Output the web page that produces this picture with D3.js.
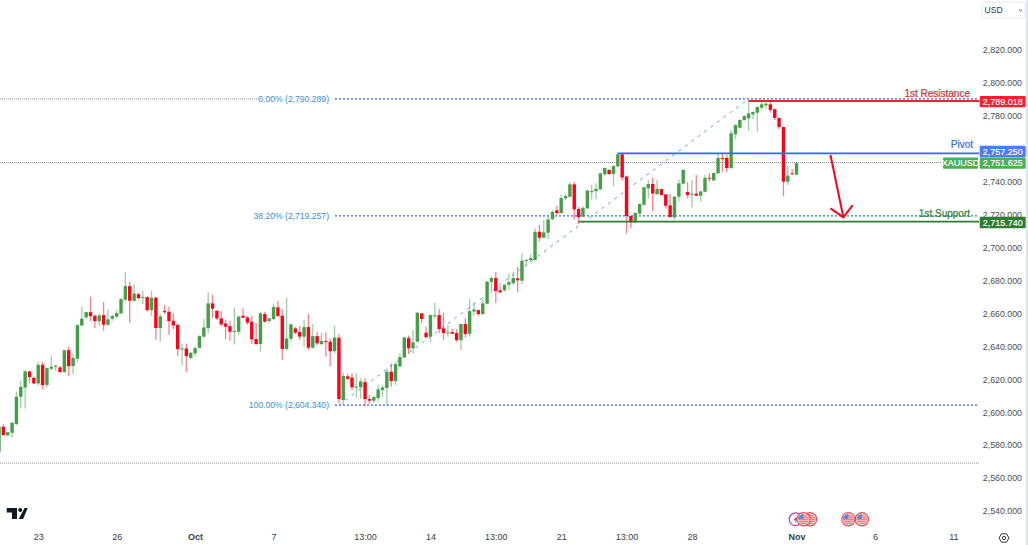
<!DOCTYPE html>
<html>
<head>
<meta charset="utf-8">
<script src="https://cdn.jsdelivr.net/npm/d3@7/dist/d3.min.js"></script>
<style>
  html, body { margin: 0; padding: 0; background: #fff; }
  svg { display: block; font-family: "Liberation Sans", Arial, sans-serif; }
</style>
</head>
<body>
<div id="viz"></div>
<script>
// XAUUSD 4h candles
const opens = [
  2576.0,2591.2,2585.9,2587.5,2592.8,2609.4,2615.0,2624.8,2620.9,2617.5,
  2628.8,2616.5,2626.4,2627.6,2627.2,2624.4,2637.7,2628.0,2632.5,2652.7,
  2657.6,2660.8,2658.6,2655.3,2659.0,2653.1,2656.8,2658.0,2660.0,2668.3,
  2676.6,2667.7,2671.7,2669.5,2669.9,2662.0,2669.5,2651.1,2661.4,2661.0,
  2655.5,2653.1,2638.1,2638.7,2632.9,2635.7,2639.1,2645.9,2651.1,2666.1,
  2661.6,2657.0,2653.9,2652.3,2648.9,2648.9,2658.6,2657.6,2655.0,2644.4,
  2641.4,2659.6,2655.4,2656.6,2663.7,2658.6,2638.4,2644.6,2650.9,2648.7,
  2645.9,2651.7,2639.2,2646.2,2641.4,2643.2,2642.8,2637.1,2645.2,2607.4,
  2621.8,2621.0,2615.3,2615.1,2618.3,2608.0,2607.0,2608.6,2613.5,2614.7,
  2624.6,2618.9,2627.8,2633.3,2645.0,2638.8,2642.8,2660.0,2648.3,2645.9,
  2658.4,2659.0,2650.9,2648.1,2648.7,2648.1,2643.8,2653.6,2647.7,2661.2,
  2662.0,2659.6,2665.9,2679.1,2681.5,2674.0,2674.0,2677.4,2678.4,2681.3,
  2679.9,2691.8,2692.4,2692.4,2709.6,2706.0,2709.0,2717.3,2722.6,2721.0,
  2729.9,2730.9,2738.4,2723.4,2718.8,2723.8,2734.1,2734.3,2735.4,2744.5,
  2747.1,2744.7,2749.3,2756.6,2743.1,2719.2,2715.3,2720.6,2726.0,2736.0,
  2738.6,2732.5,2735.6,2732.3,2725.6,2718.4,2730.9,2738.8,2733.7,2732.3,
  2732.7,2731.5,2733.9,2742.4,2740.8,2745.1,2754.4,2754.4,2748.3,2768.8,
  2772.8,2777.5,2778.5,2780.9,2781.9,2785.0,2786.4,2787.0,2784.0,2778.7,
  2773.2,2740.0,2745.1,2744.3
];
const highs = [
  2592.0,2592.6,2588.0,2594.0,2612.4,2619.1,2625.6,2624.8,2621.5,2630.4,
  2630.6,2627.2,2634.3,2628.8,2628.0,2637.7,2639.8,2635.7,2653.3,2664.1,
  2660.8,2670.1,2659.4,2660.0,2666.9,2662.6,2659.0,2662.0,2669.5,2685.1,
  2679.2,2677.6,2672.6,2673.8,2670.5,2673.8,2670.1,2660.0,2665.1,2664.1,
  2660.0,2653.3,2641.8,2641.8,2636.5,2639.8,2646.8,2656.6,2672.8,2671.2,
  2662.0,2661.4,2656.0,2655.4,2663.5,2658.6,2663.1,2658.4,2658.4,2654.4,
  2661.0,2661.0,2657.4,2666.1,2667.7,2662.7,2669.7,2653.9,2651.9,2652.3,
  2656.0,2659.6,2653.5,2648.9,2648.3,2648.5,2644.8,2652.5,2647.3,2623.6,
  2623.6,2623.6,2623.6,2620.5,2620.5,2610.4,2609.8,2616.5,2616.5,2626.6,
  2629.7,2630.7,2635.7,2645.8,2646.6,2649.9,2661.0,2660.4,2651.9,2659.4,
  2666.7,2662.7,2660.6,2652.9,2650.5,2650.5,2653.6,2657.0,2668.7,2666.5,
  2662.4,2669.1,2679.7,2682.3,2685.1,2676.6,2677.8,2684.3,2685.3,2688.4,
  2696.5,2693.0,2696.0,2711.7,2713.7,2716.7,2719.8,2722.8,2725.4,2731.9,
  2732.5,2739.4,2740.0,2724.8,2724.8,2735.0,2738.0,2739.0,2745.5,2748.5,
  2747.7,2749.9,2757.8,2757.2,2743.7,2719.2,2721.4,2726.8,2737.0,2741.0,
  2742.6,2741.0,2735.6,2732.5,2732.5,2731.3,2741.4,2747.5,2739.8,2741.0,
  2744.1,2734.5,2744.1,2745.1,2745.7,2757.2,2756.8,2756.2,2771.4,2774.8,
  2777.9,2780.3,2789.6,2782.7,2785.6,2790.0,2788.6,2790.0,2784.4,2779.1,
  2773.4,2749.5,2747.7,2751.7
];
const lows = [
  2575.0,2585.7,2585.5,2584.5,2592.2,2602.3,2602.3,2617.5,2617.1,2616.3,
  2613.8,2615.0,2625.2,2625.2,2623.8,2624.0,2622.1,2623.0,2630.6,2652.3,
  2656.4,2655.5,2651.1,2652.3,2649.5,2652.7,2655.5,2656.8,2659.6,2667.1,
  2654.3,2667.3,2668.5,2665.7,2661.0,2658.4,2644.2,2642.8,2659.6,2647.0,
  2650.5,2634.1,2628.6,2624.4,2632.5,2633.9,2638.7,2645.4,2647.9,2657.4,
  2656.0,2652.3,2644.2,2643.4,2641.2,2646.9,2657.0,2653.0,2641.4,2640.8,
  2636.7,2654.4,2654.0,2656.0,2658.0,2631.7,2637.3,2642.8,2647.5,2643.8,
  2639.8,2637.6,2638.6,2640.8,2640.8,2633.7,2628.0,2635.7,2605.4,2604.7,
  2619.5,2613.4,2609.0,2608.4,2604.3,2605.0,2605.8,2606.4,2609.4,2604.3,
  2615.5,2616.5,2627.6,2632.9,2635.3,2635.7,2642.4,2654.0,2644.8,2642.8,
  2657.0,2647.9,2643.8,2645.8,2647.5,2642.6,2637.7,2645.4,2645.8,2658.6,
  2658.6,2659.2,2665.5,2672.6,2666.5,2672.6,2673.2,2674.2,2677.2,2672.8,
  2677.8,2689.0,2691.0,2692.4,2703.6,2705.6,2705.0,2716.7,2719.8,2720.4,
  2728.9,2730.5,2717.1,2714.3,2718.4,2723.4,2729.3,2729.3,2735.0,2743.5,
  2744.1,2737.4,2748.7,2740.6,2708.6,2711.7,2715.3,2720.2,2725.6,2729.9,
  2722.2,2731.9,2731.5,2723.8,2718.1,2716.7,2727.9,2738.4,2729.9,2724.4,
  2731.3,2727.9,2733.5,2740.0,2740.6,2744.7,2745.7,2745.7,2747.9,2765.9,
  2772.4,2776.9,2770.8,2777.9,2770.4,2783.6,2784.4,2781.9,2777.5,2771.8,
  2731.3,2738.0,2744.3,2744.1
];
const closes = [
  2591.2,2586.1,2587.9,2593.6,2609.4,2615.4,2624.8,2621.3,2617.5,2628.8,
  2616.5,2626.8,2627.6,2628.2,2624.4,2637.7,2628.0,2632.9,2652.9,2656.8,
  2660.8,2658.4,2655.3,2658.8,2653.1,2656.4,2658.4,2660.2,2668.7,2676.6,
  2667.7,2672.1,2669.3,2669.9,2662.0,2669.5,2651.1,2658.2,2661.0,2655.3,
  2652.7,2638.3,2638.7,2634.1,2636.1,2638.9,2646.2,2651.5,2666.1,2662.9,
  2657.0,2653.3,2651.9,2648.9,2649.3,2658.0,2657.4,2654.4,2644.2,2641.4,
  2660.0,2655.0,2657.0,2663.9,2658.4,2638.4,2644.8,2653.3,2648.3,2645.9,
  2651.7,2639.2,2646.2,2641.8,2643.2,2642.8,2637.1,2645.4,2608.0,2622.0,
  2620.3,2615.1,2615.5,2618.7,2608.0,2607.0,2609.2,2613.9,2615.1,2624.6,
  2618.9,2629.2,2633.5,2645.4,2638.8,2642.4,2660.4,2656.6,2645.6,2659.0,
  2658.8,2650.5,2648.1,2648.5,2647.7,2643.8,2653.6,2647.5,2661.4,2662.4,
  2659.6,2666.1,2679.3,2681.5,2673.6,2672.8,2677.4,2679.0,2681.5,2680.1,
  2692.0,2692.4,2693.6,2709.6,2706.0,2709.2,2717.1,2721.6,2721.0,2730.1,
  2731.3,2738.4,2723.2,2718.4,2724.2,2734.6,2734.3,2735.6,2745.1,2748.3,
  2744.7,2749.5,2756.6,2742.6,2719.2,2715.3,2721.0,2726.4,2736.6,2738.6,
  2732.9,2735.6,2731.9,2725.4,2718.6,2730.9,2739.0,2747.1,2731.9,2732.7,
  2731.5,2734.1,2742.4,2741.8,2745.3,2754.4,2754.0,2748.3,2769.4,2774.4,
  2777.5,2779.9,2781.5,2782.3,2785.4,2787.0,2787.4,2783.6,2778.7,2773.2,
  2740.0,2743.7,2744.7,2751.3
];

// axes
const priceTicks = [2820,2800,2780,2740,2720,2700,2680,2660,2640,2620,2600,2580,2560,2540];
const timeTickBars = [9,27,45,63,84,99,114,129,144,159,183,201,219];
const timeTickLabels = ["23","26","Oct","7","13:00","14","13:00","21","13:00","28","Nov","6","11"];
const boldTimeLabels = ["Oct","Nov"];

// fib tool
const fibLabels = ["0.00%","38.20%","100.00%"];
const fibPrices = [2790.289,2719.257,2604.34];
const fibStartBar = 78;
const fibEndBar = 172;

// levels drawn on the chart
const levelNames = ["1st Resistance","Pivot","1st.Support"];
const levelPrices = [2789.018,2757.25,2715.74];
const levelStartBars = [172,142,133];

const lastPrice = 2751.625;
const symbol = "XAUUSD";
const greyLevelPrice = 2569.1;

// arrow: shaft start, tip, then the two barbs
const arrowBars = [190.8,193.75,190.8,195.9];
const arrowPrices = [2756.2,2718.4,2723.8,2725.8];

// calendar events under the candles
const flagBars = [186.1,184.6,194.9,198];
const moonBar = 182.8;

const width = 1028;
const height = 545;
const axisLeft = 979;

const green = "#43a047";
const red = "#ff0018";
const blue = "#2962ff";
const fibBlue = "#3d8de0";
const darkGreen = "#2e7d32";
const levelColors = ["#f7202f", "#2f6bf0", darkGreen];
const tagColors = ["#f7202f", "#4a7df3", "#2e7d32"];
const tagShifts = [0.6, -1.8, 0.9];
const textColor = "#4a4e57";

const x = d3.scaleLinear().domain([0, 219]).range([-1, 953.4]);
const y = d3.scaleLinear().domain([2540, 2820]).range([511, 50]);

const svg = d3.select("#viz").append("svg")
  .attr("width", width)
  .attr("height", height);

svg.append("rect").attr("width", width).attr("height", height).attr("fill", "#fff");
svg.append("line")
  .attr("x1", width - 1).attr("x2", width - 1)
  .attr("y1", 0).attr("y2", height)
  .attr("stroke", "#b8c8ee");

const chart = svg.append("g");

// long dotted lines behind everything
const dotted = (price, x1, x2, color, dash, w) => chart.append("line")
  .attr("x1", x1).attr("x2", x2)
  .attr("y1", y(price)).attr("y2", y(price))
  .attr("stroke", color)
  .attr("stroke-width", w)
  .attr("stroke-dasharray", dash);

dotted(fibPrices[0], 0, 262, "#8d8f98", "1 1", 1);
dotted(lastPrice, 0, 942, "#8b7f9e", "1 1", 1);
dotted(greyLevelPrice, 0, axisLeft, "#8d8f98", "1 1", 1);

// fib levels
fibPrices.forEach(p => {
  dotted(p, x(fibStartBar) - 4, axisLeft, blue, "2 2", 1.3);
});

chart.append("line")
  .attr("x1", x(fibStartBar)).attr("y1", y(fibPrices[2]))
  .attr("x2", x(fibEndBar)).attr("y2", y(fibPrices[0]))
  .attr("stroke", "#5b9cf6")
  .attr("stroke-width", 1)
  .attr("stroke-dasharray", "3 5");

chart.selectAll(".fibLabel")
  .data(fibLabels)
  .enter()
  .append("text")
  .attr("class", "fibLabel")
  .attr("x", 329)
  .attr("y", (d, i) => y(fibPrices[i]) + 3.2)
  .attr("text-anchor", "end")
  .attr("font-size", 8.6)
  .attr("fill", fibBlue)
  .text((d, i) => d + " (" + d3.format(",.3f")(fibPrices[i]) + ")");

// candles
const candles = d3.range(opens.length).map(i => ({
  i: i, o: opens[i], h: highs[i], l: lows[i], c: closes[i]
}));
const color = d => d.c >= d.o ? green : red;

const candleG = chart.selectAll(".candle")
  .data(candles)
  .enter()
  .append("g")
  .attr("class", "candle");

candleG.append("line")
  .attr("x1", d => x(d.i)).attr("x2", d => x(d.i))
  .attr("y1", d => y(d.h)).attr("y2", d => y(d.l))
  .attr("stroke", color)
  .attr("stroke-width", 1.3)
  .attr("opacity", 0.5);

candleG.append("rect")
  .attr("x", d => x(d.i) - 1.7)
  .attr("width", 3.4)
  .attr("y", d => y(Math.max(d.o, d.c)))
  .attr("height", d => Math.max(1, Math.abs(y(d.o) - y(d.c))))
  .attr("fill", color);

// levels and their names
levelPrices.forEach((p, i) => {
  chart.append("line")
    .attr("x1", x(levelStartBars[i])).attr("x2", axisLeft)
    .attr("y1", y(p)).attr("y2", y(p))
    .attr("stroke", levelColors[i])
    .attr("stroke-width", 1.8);
  chart.append("text")
    .attr("x", i == 1 ? 973 : 970)
    .attr("y", y(p) + [-4.5, -5, -5][i])
    .attr("text-anchor", "end")
    .attr("font-size", 10)
    .attr("fill", levelColors[i])
    .attr("stroke", levelColors[i])
    .attr("stroke-width", 0.2)
    .text(levelNames[i]);
});

// red arrow
const arrowPts = arrowBars.map((b, i) => [x(b), y(arrowPrices[i])]);
const arrowLine = d3.line();
chart.append("path")
  .attr("d", arrowLine([arrowPts[0], arrowPts[1]]))
  .attr("stroke", red).attr("stroke-width", 2).attr("fill", "none");
chart.append("path")
  .attr("d", arrowLine([arrowPts[2], arrowPts[1], arrowPts[3]]))
  .attr("stroke", red).attr("stroke-width", 2).attr("fill", "none");

// price axis
const yAxis = d3.axisLeft(y)
  .tickValues(priceTicks)
  .tickFormat(d3.format(",.3f"))
  .tickSize(0)
  .tickPadding(0);
const yG = svg.append("g").attr("transform", "translate(1022,0)").call(yAxis);
yG.select(".domain").remove();
yG.selectAll("text")
  .attr("font-family", "Liberation Sans")
  .attr("font-size", 8.8)
  .attr("fill", textColor);

// time axis
const xAxis = d3.axisBottom(x)
  .tickValues(timeTickBars)
  .tickFormat((d, i) => timeTickLabels[i])
  .tickSize(0)
  .tickPadding(0);
const xG = svg.append("g").attr("transform", "translate(0,533.5)").call(xAxis);
xG.select(".domain").remove();
xG.selectAll("text")
  .attr("font-family", "Liberation Sans")
  .attr("font-size", 9)
  .attr("fill", "#3a3d45")
  .attr("font-weight", (d, i) => boldTimeLabels.includes(timeTickLabels[i]) ? "bold" : "normal");

// price tags
const tag = (price, shift, text, color, tx, tw) => {
  const g = svg.append("g");
  g.append("rect")
    .attr("x", tx).attr("y", y(price) + shift - 5.7)
    .attr("width", tw).attr("height", 11.4)
    .attr("rx", 1)
    .attr("fill", color);
  g.append("text")
    .attr("x", tx + tw / 2).attr("y", y(price) + shift + 3.2)
    .attr("text-anchor", "middle")
    .attr("font-size", 9)
    .attr("fill", "#fff")
    .attr("stroke", "#fff")
    .attr("stroke-width", 0.15)
    .text(text);
};
levelPrices.forEach((p, i) => tag(p, tagShifts[i], d3.format(",.3f")(p), tagColors[i], 979.7, 46));
tag(lastPrice, 0.6, d3.format(",.3f")(lastPrice), "#4caf50", 979.7, 46);
tag(lastPrice, 0.6, symbol, "#4caf50", 943, 35);

// currency button
svg.append("rect")
  .attr("x", 982).attr("y", 2).attr("width", 43).attr("height", 16)
  .attr("rx", 3)
  .attr("fill", "#fff").attr("stroke", "#e6e8ee");
svg.append("text")
  .attr("x", 984.5).attr("y", 13)
  .attr("font-size", 8.6).attr("fill", "#33363f")
  .text("USD");
svg.append("path")
  .attr("d", "M1019 9.5l1.6 1.5 1.6-1.5")
  .attr("fill", "none").attr("stroke", "#555").attr("stroke-width", 1);

// settings gear
svg.append("path")
  .attr("d", "M999 538l2.5-4.2h5l2.5 4.2-2.5 4.2h-5z")
  .attr("fill", "none").attr("stroke", "#33363f").attr("stroke-width", 1);
svg.append("circle")
  .attr("cx", 1004).attr("cy", 538).attr("r", 1.7)
  .attr("fill", "none").attr("stroke", "#33363f");

// tradingview logo
svg.append("path")
  .attr("d", "M6.7 508h10.3v11h-5v-6.4H6.7zM24.6 508h3.1l-4.6 11h-4.4z")
  .attr("fill", "#131722");
svg.append("circle").attr("cx", 20.2).attr("cy", 510).attr("r", 2).attr("fill", "#131722");

// calendar flags
const defs = svg.append("defs");
const eventY = 519.3;
const drawFlag = (bar, id) => {
  const cx = x(bar);
  defs.append("clipPath").attr("id", id)
    .append("circle").attr("cx", cx).attr("cy", eventY).attr("r", 5.4);
  const g = svg.append("g");
  g.append("circle")
    .attr("cx", cx).attr("cy", eventY).attr("r", 6.6)
    .attr("fill", "#fff").attr("stroke", "#f4474f").attr("stroke-width", 1.2);
  const inner = g.append("g").attr("clip-path", "url(#" + id + ")");
  d3.range(0, 6).forEach(k => {
    inner.append("rect")
      .attr("x", cx - 6).attr("width", 12)
      .attr("y", eventY - 6 + k * 2).attr("height", 1.1)
      .attr("fill", "#f4474f");
  });
  inner.append("rect")
    .attr("x", cx - 6).attr("y", eventY - 6)
    .attr("width", 6).attr("height", 5.6)
    .attr("fill", "#4a90e2");
};
drawFlag(flagBars[0], "flag0");
svg.append("circle")
  .attr("cx", x(moonBar)).attr("cy", eventY).attr("r", 6.4)
  .attr("fill", "#fff").attr("stroke", "#ab47bc").attr("stroke-width", 1.2);
svg.append("path")
  .attr("d", "M" + (x(moonBar) + 2.5) + " " + (eventY - 4) + "l-5 5h2.5l-1 3 4-5h-2.5z")
  .attr("fill", "#ab47bc");
drawFlag(flagBars[1], "flag1");
drawFlag(flagBars[2], "flag2");
drawFlag(flagBars[3], "flag3");
</script>
</body>
</html>
